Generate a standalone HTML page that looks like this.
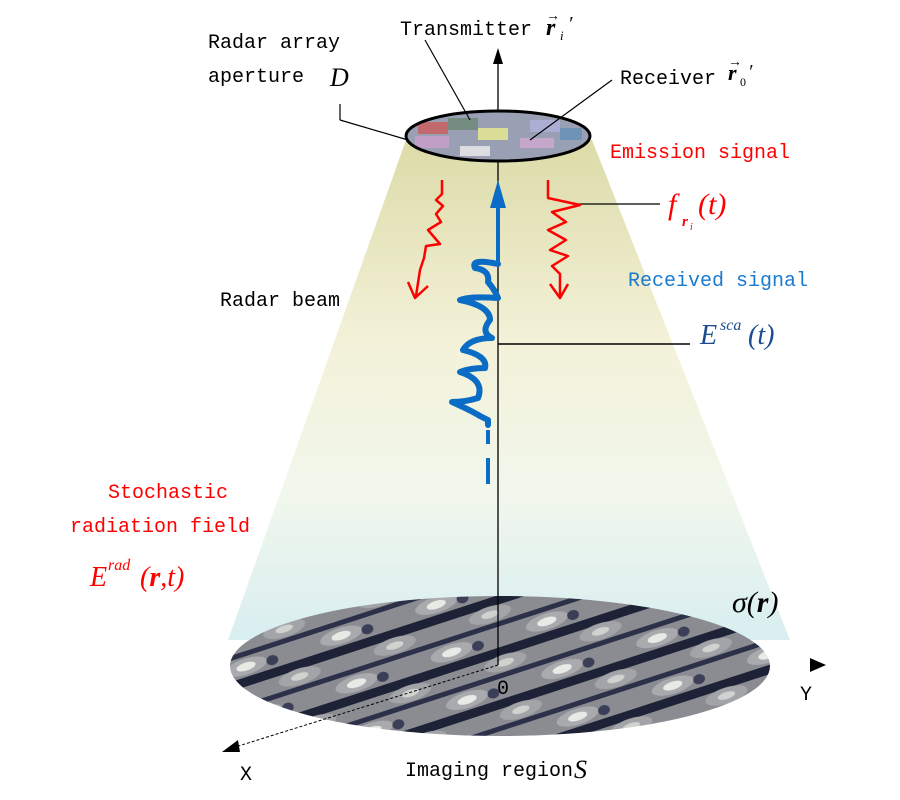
<!DOCTYPE html>
<html><head><meta charset="utf-8"><style>
body{margin:0;background:#fff}
svg{display:block}
.m{font-family:"Liberation Mono",monospace;font-size:20px}
.s{font-family:"Liberation Serif",serif;font-style:italic}
</style></head><body>
<svg width="900" height="800" viewBox="0 0 900 800" xmlns="http://www.w3.org/2000/svg">
<defs>
<linearGradient id="cone" x1="0" y1="0" x2="0" y2="1">
<stop offset="0" stop-color="#dcdba8"/>
<stop offset="0.4" stop-color="#f3f1d8"/>
<stop offset="0.7" stop-color="#f2f7ec"/>
<stop offset="1" stop-color="#d8eef0"/>
</linearGradient>
<pattern id="blob" width="100" height="50" patternUnits="userSpaceOnUse" patternTransform="rotate(-18)">
<rect width="100" height="50" fill="#8a8c92"/>
<rect x="0" y="20" width="100" height="9" fill="#1e2236"/>
<rect x="0" y="45" width="100" height="5" fill="#2c3048"/>
<ellipse cx="28" cy="10" rx="22" ry="8" fill="#a8aaae"/>
<ellipse cx="28" cy="10" rx="10" ry="4" fill="#e8eae6"/>
<ellipse cx="76" cy="36" rx="22" ry="8" fill="#a2a4a8"/>
<ellipse cx="76" cy="36" rx="9" ry="3.5" fill="#d0d2d0"/>
<ellipse cx="55" cy="12" rx="6" ry="5" fill="#3a3e56"/>
</pattern>
</defs>
<polygon points="406,140 592,140 790,640 228,640" fill="url(#cone)"/>
<ellipse cx="500" cy="666" rx="270" ry="70" fill="url(#blob)"/>
<line x1="498" y1="60" x2="498" y2="665" stroke="#000" stroke-width="1.3"/>
<polygon points="498,48 493,64 503,64" fill="#000"/>
<line x1="498" y1="665" x2="232" y2="748" stroke="#000" stroke-width="1" stroke-dasharray="3,2"/>
<polygon points="222,752 238,740 240,752" fill="#000"/>
<polygon points="826,665 810,658 810,672" fill="#000"/>
<ellipse cx="498" cy="136" rx="92" ry="25" fill="#9aa0b4"/>
<g opacity="0.85">
<rect x="418" y="122" width="30" height="12" fill="#c86060"/>
<rect x="448" y="118" width="30" height="12" fill="#6e8a78"/>
<rect x="478" y="128" width="30" height="12" fill="#e4e890"/>
<rect x="415" y="136" width="34" height="12" fill="#c8a0c8"/>
<rect x="530" y="120" width="30" height="12" fill="#b0b0d8"/>
<rect x="560" y="128" width="22" height="12" fill="#6890b8"/>
<rect x="520" y="138" width="34" height="10" fill="#d0a8d0"/>
<rect x="460" y="146" width="30" height="10" fill="#e8e8e8"/>
</g>
<ellipse cx="498" cy="136" rx="92" ry="25" fill="none" stroke="#000" stroke-width="3"/>
<line x1="340" y1="120" x2="408" y2="140" stroke="#000" stroke-width="1.2"/>
<line x1="340" y1="104" x2="340" y2="120" stroke="#000" stroke-width="1.2"/>
<line x1="425" y1="40" x2="470" y2="120" stroke="#000" stroke-width="1.2"/>
<line x1="612" y1="80" x2="530" y2="140" stroke="#000" stroke-width="1.2"/>
<line x1="575" y1="204" x2="660" y2="204" stroke="#000" stroke-width="1.2"/>
<line x1="498" y1="344" x2="690" y2="344" stroke="#000" stroke-width="1.5"/>
<g fill="none" stroke="#f00" stroke-width="2.5" stroke-linejoin="round">
<path d="M442,180 L442,194 L436,200 L443,206 L436,214 L441,222 L428,230 L440,244 L426,246 L424,258 L420,270 L416,296"/>
<path d="M408,282 L415,298 L428,286"/>
<path d="M548,180 L548,198 L580,205 L552,212 L566,222 L548,230 L566,240 L550,250 L568,256 L552,266 L560,274 L560,296"/>
<path d="M550,284 L560,298 L568,284"/>
</g>
<polygon points="498,180 490,208 506,208" fill="#0a6cc4"/>
<line x1="498" y1="205" x2="498" y2="264" stroke="#0a6cc4" stroke-width="4"/>
<path d="M498,264 Q470,258 475,268 Q490,270 488,282 Q495,290 498,298 Q470,296 460,300 Q490,306 490,320 Q480,332 492,338 Q470,338 463,350 Q488,356 485,368 Q470,368 460,372 Q485,380 478,398 Q465,402 452,402 Q470,410 480,416 L488,420 L488,425" fill="none" stroke="#0a6cc4" stroke-width="6" stroke-linecap="round" stroke-linejoin="round"/>
<line x1="488" y1="430" x2="488" y2="444" stroke="#0a6cc4" stroke-width="4"/>
<line x1="488" y1="458" x2="488" y2="484" stroke="#0a6cc4" stroke-width="4"/>
<text x="400" y="35" class="m">Transmitter</text>
<text x="546" y="35" class="s" font-size="24" font-weight="bold">r</text><text x="560" y="40" class="s" font-size="13">i</text><text x="568" y="30" class="s" font-size="20">′</text>
<text x="546" y="20" font-size="14" font-family="Liberation Sans">→</text>
<text x="208" y="48" class="m">Radar array</text>
<text x="208" y="82" class="m">aperture</text>
<text x="330" y="86" class="s" font-size="26">D</text>
<text x="620" y="84" class="m">Receiver</text>
<text x="728" y="80" class="s" font-size="22" font-weight="bold">r</text><text x="740" y="86" font-size="12" font-family="Liberation Serif">0</text><text x="748" y="78" class="s" font-size="20">′</text>
<text x="728" y="66" font-size="14" font-family="Liberation Sans">→</text>
<text x="610" y="158" class="m" fill="#f00">Emission signal</text>
<text x="668" y="214" class="s" font-size="30" fill="#f00">f</text>
<text x="682" y="226" class="s" font-size="15" font-weight="bold" fill="#f00">r</text><text x="690" y="230" class="s" font-size="10" fill="#f00">i</text>
<text x="698" y="214" class="s" font-size="30" fill="#f00">(t)</text>
<text x="628" y="286" class="m" fill="#1a7ad0">Received signal</text>
<text x="700" y="344" class="s" font-size="28" fill="#1a4d90">E</text>
<text x="720" y="330" class="s" font-size="16" fill="#1a4d90">sca</text>
<text x="748" y="344" class="s" font-size="28" fill="#1a4d90">(t)</text>
<text x="220" y="306" class="m">Radar beam</text>
<text x="108" y="498" class="m" fill="#f00">Stochastic</text>
<text x="70" y="532" class="m" fill="#f00">radiation field</text>
<text x="90" y="586" class="s" font-size="28" fill="#f00">E</text>
<text x="108" y="570" class="s" font-size="16" fill="#f00">rad</text>
<text x="140" y="586" class="s" font-size="28" fill="#f00">(<tspan font-weight="bold">r</tspan>,t)</text>
<text x="732" y="612" class="s" font-size="30">σ(<tspan font-weight="bold">r</tspan>)</text>
<text x="497" y="694" class="m">0</text>
<text x="800" y="700" class="m">Y</text>
<text x="240" y="780" class="m">X</text>
<text x="405" y="776" class="m">Imaging region</text>
<text x="574" y="778" class="s" font-size="26">S</text>
</svg>
</body></html>
